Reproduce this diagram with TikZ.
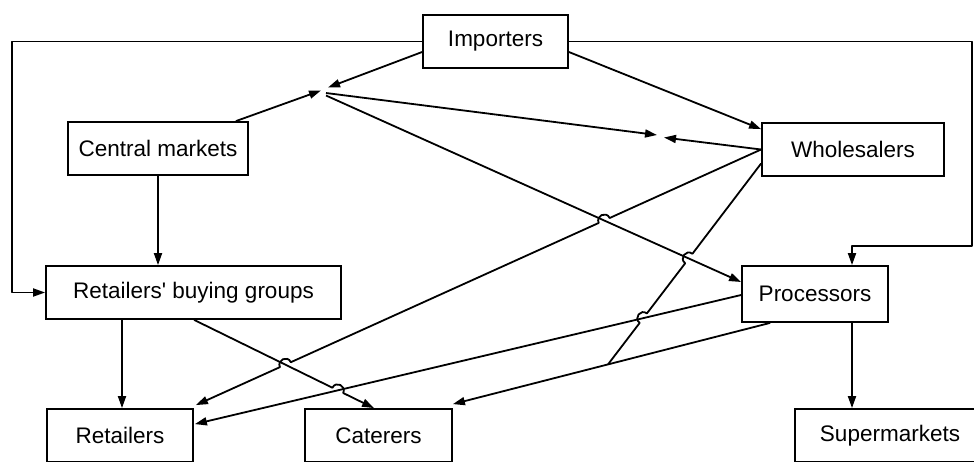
\documentclass[tikz,border=0pt]{standalone}
\usepackage{fontspec}
\setmainfont{Liberation Sans}
\usetikzlibrary{calc,arrows.meta}
\begin{document}
\begin{tikzpicture}[x=1pt,y=-1pt,
  box/.style={draw,line width=1.8pt,inner sep=0pt,font=\fontsize{22.5}{27}\selectfont,minimum height=53pt},
  conn/.style={line width=1.8pt,line join=round},
  arr/.style={conn,-{Triangle[length=12pt,width=8pt]}},
  hopR/.style={to path={.. controls ($(\tikztostart)!8pt!-90:(\tikztotarget)$) and ($(\tikztotarget)!8pt!90:(\tikztostart)$) .. (\tikztotarget)}},
  hopL/.style={to path={.. controls ($(\tikztostart)!8pt!90:(\tikztotarget)$) and ($(\tikztotarget)!8pt!-90:(\tikztostart)$) .. (\tikztotarget)}}]
\useasboundingbox (0,0) rectangle (974,461);
\fill[white] (0,0) rectangle (974,461);
\clip (0,0) rectangle (974,461);

% boxes
\node[box,minimum width=145pt] (imp) at (495.5,41.5) {Importers};
\node[box,minimum width=180pt] (cm) at (158,148.5) {Central markets};
\node[box,minimum width=182pt] (wh) at (853,149.5) {Wholesalers};
\node[box,minimum width=295pt] (rbg) at (193.5,292.5) {Retailers\textquotesingle\ buying groups};
\node[box,minimum width=146pt,minimum height=56pt] (pro) at (815,294) {Processors};
\node[box,minimum width=146pt] (ret) at (120,435.5) {Retailers};
\node[box,minimum width=147pt] (cat) at (378.5,435.5) {Caterers};
\node[box,minimum width=190pt] (sup) at (890,435.5) {Supermarkets};

% outer routes
\coordinate (lc) at (12,41.5);
\coordinate (rc) at (972,41.5);
\coordinate (k1) at (852,246);
\coordinate (k2) at (122,0);
\draw[arr] (imp.west) -- (lc) |- (rbg.west);
\draw[arr] (imp.east) -- (rc) |- (k1) -- (k1 |- pro.north);
\draw[arr] (cm.south) -- (cm.south |- rbg.north);
\draw[arr] (k2 |- rbg.south) -- (k2 |- ret.north);
\draw[arr] (k1 |- pro.south) -- (k1 |- sup.north);

% junction points
\coordinate (j1a) at (328,87.5);
\coordinate (j1b) at (321,90.5);
\coordinate (j1c) at (326,93);
\coordinate (l5a) at (326,95.5);
\coordinate (j2a) at (657,135);
\coordinate (j2b) at (664,137.5);
\draw[arr] ($(imp.west)+(0,10.5)$) -- (j1a);
\draw[arr] ($(cm.north east)+(-13,0)$) -- (j1b);
\draw[arr] (j1c) -- (j2a);
\draw[arr] (wh.west) -- (j2b);
\draw[arr] ($(imp.east)+(0,10.5)$) -- ($(wh.north west)+(0,7)$);

% crossing lines
\coordinate (l5b) at ($(pro.west)+(0,-12)$);
\coordinate (l8a) at (wh.west);
\coordinate (l8b) at ($(ret.north east)+(2,-3)$);
\coordinate (l9a) at ($(wh.west)+(0,14)$);
\coordinate (l10a) at ($(pro.west)+(0,1)$);
\coordinate (l10b) at ($(ret.north east)+(1,16)$);
\coordinate (l11a) at ($(pro.south west)+(29,0)$);
\coordinate (l11b) at ($(cat.north east)+(0,-4)$);
\coordinate (j9) at ($(l11a)!0.511!(l11b)$);
\coordinate (l12a) at ($(rbg.south west)+(149,0)$);
\coordinate (l12b) at ($(cat.north)+(-4.5,0)$);

\coordinate (X1) at (intersection of l8a--l8b and l5a--l5b);
\coordinate (X2) at (intersection of l8a--l8b and l12a--l12b);
\coordinate (X3) at (intersection of l9a--j9 and l5a--l5b);
\coordinate (X4) at (intersection of l9a--j9 and l10a--l10b);
\coordinate (X5) at (intersection of l12a--l12b and l10a--l10b);

\coordinate (X1a) at ($(X1)!6pt!(l8a)$);  \coordinate (X1b) at ($(X1)!6pt!(l8b)$);
\coordinate (X2a) at ($(X2)!6pt!(l8a)$);  \coordinate (X2b) at ($(X2)!6pt!(l8b)$);
\coordinate (X3a) at ($(X3)!6pt!(l9a)$);  \coordinate (X3b) at ($(X3)!6pt!(j9)$);
\coordinate (X4a) at ($(X4)!6pt!(l9a)$);  \coordinate (X4b) at ($(X4)!6pt!(j9)$);
\coordinate (X5a) at ($(X5)!6pt!(l12a)$); \coordinate (X5b) at ($(X5)!6pt!(l12b)$);

\draw[arr] (l5a) -- (l5b);
\draw[arr] (l8a) -- (X1a) to[hopR] (X1b) -- (X2a) to[hopR] (X2b) -- (l8b);
\draw[conn] (l9a) -- (X3a) to[hopR] (X3b) -- (X4a) to[hopR] (X4b) -- (j9);
\draw[arr] (l10a) -- (l10b);
\draw[arr] (l11a) -- (l11b);
\draw[arr] (l12a) -- (X5a) to[hopL] (X5b) -- (l12b);
\end{tikzpicture}
\end{document}
